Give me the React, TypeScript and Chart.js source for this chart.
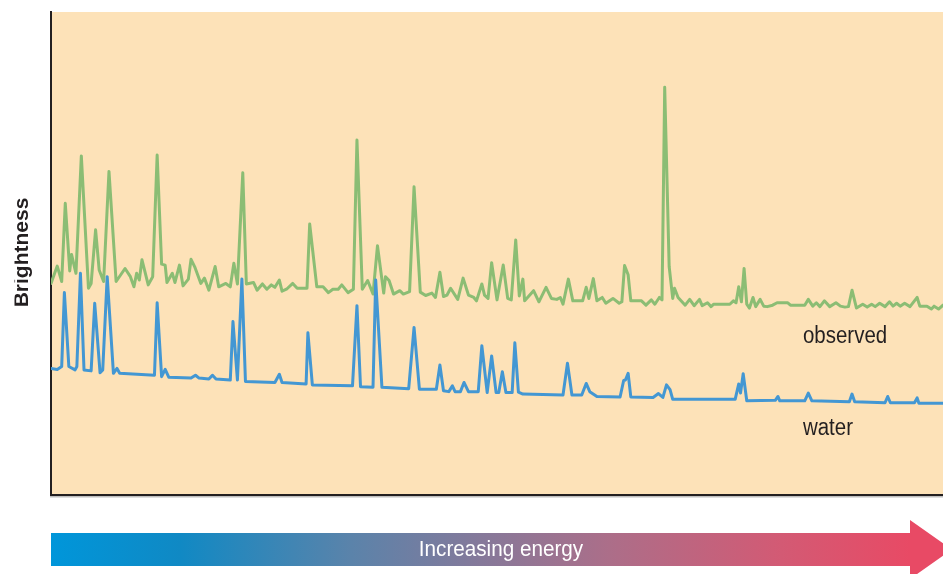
import React, { useEffect, useRef } from 'react';
import { Chart, registerables } from 'chart.js';

Chart.register(...registerables);

// ---- Data (arbitrary units: energy 0–100 left→right, brightness 0–100 bottom→top) ----
const observedEnergy = [
  0, 0.7, 1.2, 1.6, 2.1, 2.3, 2.8, 3.4, 4.2, 4.5, 5.0, 5.4, 5.9, 6.5, 7.3, 8.3, 8.9, 9.3, 9.6, 9.9,
  10.2, 10.9, 11.4, 11.9, 12.4, 12.8, 13.0, 13.6, 13.9, 14.4, 14.8, 15.4, 15.7, 16.1, 16.8, 17.2, 17.7, 18.4, 18.8, 19.6,
  20.1, 20.5, 20.9, 21.5, 21.9, 22.7, 23.1, 23.7, 24.2, 24.7, 25.1, 25.6, 25.9, 26.4, 27.1, 27.6, 28.7, 29.0, 29.8, 30.5,
  31.1, 31.6, 32.2, 32.6, 33.3, 33.9, 34.3, 34.9, 35.5, 36.1, 36.6, 37.3, 37.5, 37.9, 38.4, 39.1, 39.5, 40.2, 40.7, 41.4,
  42.0, 42.7, 43.1, 43.6, 44.0, 44.4, 44.8, 45.6, 46.2, 46.8, 47.4, 47.7, 48.3, 48.6, 49.0, 49.4, 50.0, 50.7, 51.2, 51.6,
  52.1, 52.5, 52.9, 53.1, 54.1, 54.7, 55.5, 56.1, 56.7, 57.1, 57.4, 58.0, 58.5, 59.6, 60.0, 60.3, 60.8, 61.2, 61.8, 62.2,
  63.0, 63.7, 64.0, 64.3, 64.7, 65.0, 66.2, 66.7, 67.3, 67.7, 68.2, 68.5, 68.8, 69.3, 69.7, 69.9, 70.3, 71.1, 71.6, 72.1,
  72.7, 73.0, 73.6, 74.0, 74.3, 76.1, 76.5, 76.8, 77.1, 77.4, 77.7, 78.0, 78.3, 78.7, 79.0, 79.5, 79.9, 80.3, 80.9, 81.4,
  82.6, 82.9, 84.5, 84.9, 85.4, 85.8, 86.2, 86.7, 87.3, 88.0, 88.5, 89.0, 89.4, 89.8, 90.3, 91.0, 91.5, 92.0, 92.4, 92.9,
  93.5, 94.0, 94.4, 94.8, 95.2, 95.7, 96.3, 97.1, 97.4, 98.2, 98.7, 99.0, 99.5, 100,
];
const observedBrightness = [
  43.8, 47.4, 44.2, 60.4, 46.4, 49.8, 45.9, 70.2, 42.8, 43.8, 54.9, 46.6, 44.2, 67.0, 44.2, 46.9, 45.2, 43.1, 45.9, 44.5,
  48.7, 43.5, 45.2, 70.4, 47.8, 47.6, 44.0, 45.9, 44.0, 47.6, 43.3, 44.7, 48.8, 47.3, 43.8, 44.9, 42.4, 47.3, 43.1, 43.8,
  43.1, 48.0, 43.7, 66.7, 43.7, 44.0, 42.4, 43.7, 42.6, 43.5, 43.0, 44.5, 42.2, 42.6, 43.8, 42.8, 42.8, 56.1, 43.1, 43.1,
  41.9, 42.6, 42.6, 43.5, 41.9, 42.6, 73.5, 42.6, 44.4, 41.6, 51.6, 41.8, 45.2, 44.4, 41.6, 42.3, 41.6, 42.1, 63.8, 42.0,
  41.3, 41.8, 40.9, 46.1, 41.1, 41.4, 42.8, 40.5, 44.9, 41.4, 40.9, 40.2, 43.7, 41.4, 40.7, 48.1, 40.4, 47.6, 40.7, 40.4,
  52.8, 41.2, 44.7, 40.2, 42.3, 40.0, 43.0, 40.7, 40.5, 40.9, 39.5, 44.7, 40.2, 40.2, 43.0, 40.7, 44.8, 40.2, 40.9, 39.7,
  40.7, 39.7, 40.0, 47.5, 45.6, 40.2, 40.2, 39.3, 40.4, 39.5, 40.9, 40.4, 84.4, 47.3, 40.7, 42.8, 40.9, 39.3, 40.5, 39.2,
  40.5, 39.2, 39.8, 39.0, 39.5, 39.5, 40.2, 39.8, 43.1, 40.0, 46.9, 39.5, 38.7, 40.9, 39.0, 40.5, 39.1, 39.0, 39.3, 39.8,
  39.8, 39.3, 39.3, 40.5, 39.1, 39.8, 39.0, 40.2, 39.0, 39.8, 39.1, 38.9, 39.0, 42.4, 38.7, 39.5, 38.9, 39.5, 39.0, 39.7,
  39.0, 40.0, 39.1, 39.7, 39.1, 39.7, 39.0, 40.9, 39.1, 39.1, 38.5, 39.1, 38.5, 39.3,
];

const waterEnergy = [
  0, 0.7, 1.2, 1.5, 2.0, 2.7, 2.9, 3.3, 3.7, 4.5, 4.9, 5.5, 5.8, 6.3, 7.0, 7.4, 7.7, 11.6, 11.9, 12.4,
  12.8, 13.2, 15.7, 16.2, 16.6, 17.7, 18.1, 18.5, 20.1, 20.4, 20.9, 21.4, 21.8, 25.1, 25.6, 25.9, 28.6, 28.8, 29.3, 33.8,
  34.3, 34.7, 36.1, 36.4, 37.1, 40.1, 40.7, 41.3, 43.2, 43.6, 44.0, 44.6, 45.0, 45.3, 45.9, 46.3, 46.8, 47.9, 48.3, 48.9,
  49.4, 49.9, 50.2, 50.6, 51.0, 51.7, 52.0, 52.4, 52.9, 57.4, 57.9, 58.4, 59.5, 60.0, 60.4, 61.2, 63.8, 64.2, 64.4, 64.7,
  65.0, 67.5, 68.1, 68.6, 69.0, 69.4, 69.7, 76.7, 77.1, 77.3, 77.6, 78.0, 81.2, 81.5, 81.7, 84.5, 84.9, 85.3, 89.5, 89.8,
  90.1, 93.5, 93.8, 94.1, 96.8, 97.1, 97.3, 100,
];
const waterBrightness = [
  26.2, 26.0, 26.6, 41.9, 26.6, 25.9, 26.6, 45.9, 25.9, 25.7, 39.7, 25.3, 25.9, 45.2, 25.2, 26.2, 25.2, 24.8, 39.8, 24.5,
  26.0, 24.4, 24.2, 24.8, 24.2, 24.0, 24.8, 24.0, 23.8, 35.9, 23.8, 44.7, 23.5, 23.3, 25.0, 23.3, 23.0, 33.6, 22.8, 22.6,
  39.2, 22.4, 22.3, 44.5, 22.3, 22.0, 34.7, 21.9, 21.9, 26.9, 21.6, 21.4, 22.6, 21.4, 21.4, 23.3, 21.4, 21.4, 30.9, 21.2,
  28.8, 21.2, 21.2, 25.5, 21.2, 21.2, 31.5, 21.3, 20.9, 20.7, 27.3, 20.7, 20.7, 23.1, 21.4, 20.4, 20.3, 23.7, 23.8, 25.2,
  20.3, 20.2, 21.0, 20.2, 22.8, 21.8, 19.8, 19.8, 23.0, 21.1, 25.1, 19.5, 19.6, 20.4, 19.5, 19.5, 21.1, 19.5, 19.3, 20.9,
  19.3, 19.1, 20.4, 19.1, 19.1, 20.1, 19.0, 19.0,
];

const seriesLabels = ['observed', 'water'];
const labelEnergy = [84.3, 84.3];
const labelBrightness = [31.4, 12.4];
const yAxisTitle = 'Brightness';
const arrowCaption = 'Increasing energy';

const W = 943;
const H = 574;

const decorPlugin = {
  id: 'decor',
  beforeDraw(chart: any) {
    const { ctx, chartArea: a } = chart;
    ctx.save();
    ctx.fillStyle = '#FDE2B8';
    ctx.fillRect(a.left, a.top, a.right - a.left, a.bottom - a.top);
    // faint shadow under the frame
    ctx.fillStyle = 'rgba(0,0,0,0.25)';
    ctx.fillRect(a.left - 1, a.bottom + 1, a.right - a.left + 1, 1.5);
    ctx.restore();
  },
  afterDraw(chart: any) {
    const { ctx, chartArea: a, scales } = chart;

    // series labels
    ctx.save();
    ctx.fillStyle = '#231F20';
    ctx.font = '23px "Liberation Sans", Arial, sans-serif';
    ctx.textBaseline = 'alphabetic';
    ctx.textAlign = 'left';
    seriesLabels.forEach((t, i) => {
      const x = scales.x.getPixelForValue(labelEnergy[i]);
      const y = scales.y.getPixelForValue(labelBrightness[i]);
      ctx.save();
      ctx.translate(x, y);
      ctx.scale(0.89, 1);
      ctx.fillText(t, 0, 0);
      ctx.restore();
    });
    ctx.restore();

    // y-axis title (slightly clipped on the left like the original)
    ctx.save();
    ctx.beginPath();
    ctx.rect(14.5, 0, 40, H);
    ctx.clip();
    ctx.translate(27.5, (a.top + a.bottom) / 2 - 1);
    ctx.rotate(-Math.PI / 2);
    ctx.fillStyle = '#231F20';
    ctx.font = 'bold 21px "Liberation Sans", Arial, sans-serif';
    ctx.textAlign = 'center';
    ctx.textBaseline = 'alphabetic';
    ctx.fillText(yAxisTitle, 0, 0);
    ctx.restore();

    // energy arrow
    const bl = a.left;
    const br = bl + 859;
    const cy = 549.5;
    const half = 16.5;
    const headHalf = 29.5;
    ctx.save();
    const g = ctx.createLinearGradient(bl, 0, br, 0);
    g.addColorStop(0, '#0096DA');
    g.addColorStop(0.15, '#1089C4');
    g.addColorStop(0.35, '#5B83AA');
    g.addColorStop(0.5, '#85799A');
    g.addColorStop(0.65, '#AC6E89');
    g.addColorStop(0.85, '#D35A74');
    g.addColorStop(1, '#E84A65');
    ctx.fillStyle = g;
    ctx.beginPath();
    ctx.moveTo(bl, cy - half);
    ctx.lineTo(br, cy - half);
    ctx.lineTo(br, cy - headHalf);
    ctx.lineTo(br + 42, cy);
    ctx.lineTo(br, cy + headHalf);
    ctx.lineTo(br, cy + half);
    ctx.lineTo(bl, cy + half);
    ctx.closePath();
    ctx.fill();

    ctx.fillStyle = '#FFFFFF';
    ctx.font = '22px "Liberation Sans", Arial, sans-serif';
    ctx.textAlign = 'center';
    ctx.textBaseline = 'alphabetic';
    ctx.translate(501, 556);
    ctx.scale(0.94, 1);
    ctx.fillText(arrowCaption, 0, 0);
    ctx.restore();
  },
};

export default function App() {
  const canvasRef = useRef<HTMLCanvasElement | null>(null);

  useEffect(() => {
    if (!canvasRef.current) return;
    const axisCommon = {
      type: 'linear' as const,
      min: 0,
      max: 100,
      ticks: { display: false },
      grid: { display: false, drawTicks: false },
      border: { display: true, color: '#231F20', width: 2 },
    };
    const chart = new Chart(canvasRef.current, {
      type: 'line',
      data: {
        datasets: [
          {
            label: 'water',
            data: waterEnergy.map((e, i) => ({ x: e, y: waterBrightness[i] })),
            borderColor: '#4397D3',
            borderWidth: 3,
            pointRadius: 0,
            tension: 0,
            borderJoinStyle: 'round',
            borderCapStyle: 'round',
            fill: false,
          },
          {
            label: 'observed',
            data: observedEnergy.map((e, i) => ({ x: e, y: observedBrightness[i] })),
            borderColor: '#8BBD74',
            borderWidth: 3,
            pointRadius: 0,
            tension: 0,
            borderJoinStyle: 'round',
            borderCapStyle: 'round',
            fill: false,
          },
        ],
      },
      options: {
        animation: false,
        responsive: false,
        layout: { padding: { left: 51, top: 12, right: 0, bottom: 79 } },
        plugins: { legend: { display: false }, tooltip: { enabled: false } },
        scales: { x: axisCommon, y: axisCommon },
      } as any,
      plugins: [decorPlugin],
    });
    return () => chart.destroy();
  }, []);

  return (
    <div style={{ position: 'absolute', left: 0, top: 0, width: W, height: H, overflow: 'hidden', background: '#fff' }}>
      <canvas ref={canvasRef} width={W} height={H} style={{ display: 'block' }} />
    </div>
  );
}
